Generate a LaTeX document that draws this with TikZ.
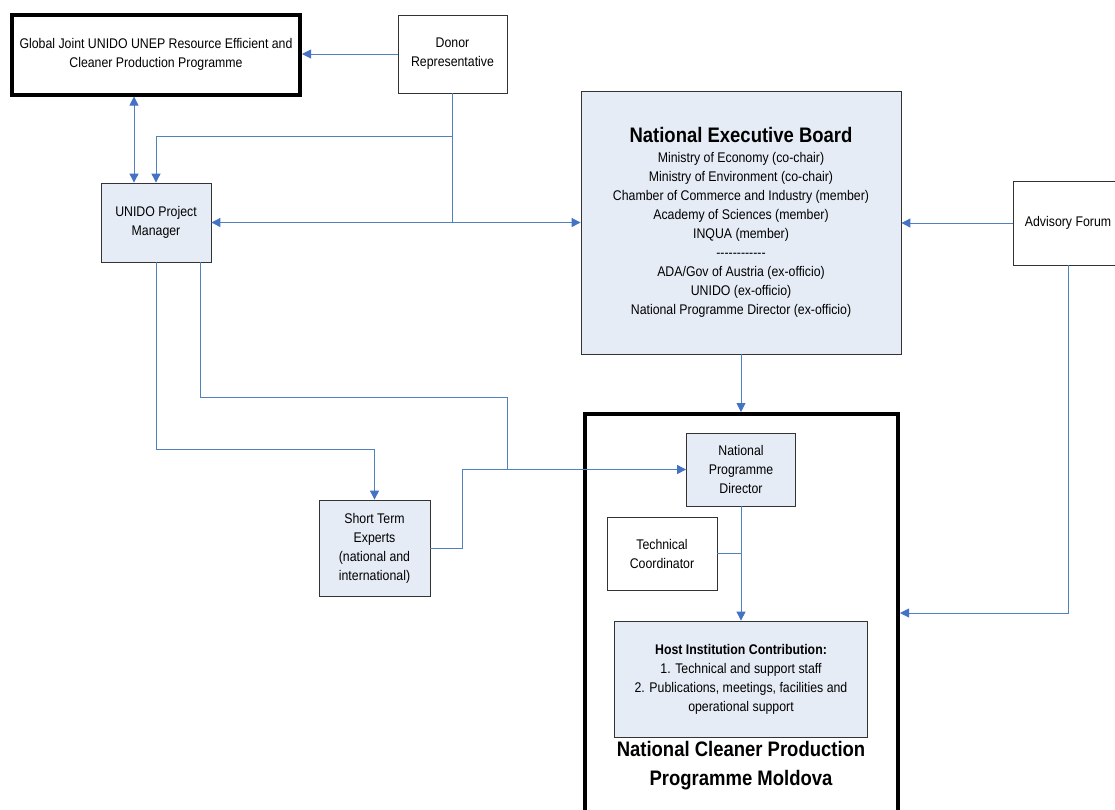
\documentclass[tikz,border=0pt]{standalone}
\usepackage{fontspec}
\setmainfont{Liberation Sans}[FakeStretch=0.88]
\usetikzlibrary{arrows.meta}
\definecolor{lnblue}{RGB}{79,129,189}
\definecolor{tipblue}{RGB}{68,114,196}
\definecolor{boxfill}{RGB}{230,236,246}
\tikzset{
  box/.style={draw=black!80, line width=0.8pt, align=center, inner sep=2pt,
    font=\fontsize{14}{19}\selectfont},
  bluebox/.style={box, fill=boxfill},
  thickbox/.style={draw=black, line width=4pt},
  conn/.style={draw=lnblue, line width=0.9pt},
  tip/.tip={Triangle[width=9pt,length=9pt,color=tipblue]},
  arr/.style={conn, -tip},
  arrb/.style={conn, tip-tip},
}
\begin{document}
\begin{tikzpicture}[x=1pt,y=-1pt]
\useasboundingbox (0,0) rectangle (1115,809);
% outer programme box
\node[thickbox, minimum width=313pt, minimum height=420pt] (outer) at (741.5,624) {};
\node[box, thickbox, minimum width=288pt, minimum height=80pt] (global) at (156,54.5)
  {Global Joint UNIDO UNEP Resource Efficient and\\Cleaner Production Programme};
\node[box, minimum width=109pt, minimum height=78pt] (donor) at (452.5,54)
  {Donor\\Representative};
\node[bluebox, minimum width=110pt, minimum height=79pt] (pm) at (156,222.5)
  {UNIDO Project\\Manager};
\node[bluebox, minimum width=320pt, minimum height=263pt] (neb) at (741,222.5)
  {{\fontsize{21}{25}\selectfont\bfseries National Executive Board}\\[1pt]
   Ministry of Economy (co-chair)\\
   Ministry of Environment (co-chair)\\
   Chamber of Commerce and Industry (member)\\
   Academy of Sciences (member)\\
   INQUA (member)\\
   -{}-{}-{}-{}-{}-{}-{}-{}-{}-{}-{}-\\
   ADA/Gov of Austria (ex-officio)\\
   UNIDO (ex-officio)\\
   National Programme Director (ex-officio)};
\node[box, minimum width=110pt, minimum height=84pt] (af) at (1068,223)
  {Advisory Forum};
\node[bluebox, minimum width=109pt, minimum height=73pt] (npd) at (741,469.5)
  {National\\Programme\\Director};
\node[box, minimum width=110pt, minimum height=73pt] (tc) at (662,553.5)
  {Technical\\Coordinator};
\node[bluebox, minimum width=253pt, minimum height=116pt] (host) at (741,679)
  {\textbf{Host Institution Contribution:}\\
   1. Technical and support staff\\
   2. Publications, meetings, facilities and\\
   operational support};
\node[bluebox, minimum width=111pt, minimum height=96pt] (ste) at (374.5,548)
  {Short Term\\Experts\\(national and\\international)};
\node[align=center, font=\fontsize{21}{29}\selectfont\bfseries] (title) at (741,766)
  {National Cleaner Production\\Programme Moldova};
% junction coordinates
\coordinate (dj) at (donor.south |- 0,136);
\coordinate (pmr) at ([xshift=44pt]pm.south);
\coordinate (ja) at (507,397);
\coordinate (jb) at (507,469.5);
\coordinate (jc) at (462,469.5);
\coordinate (af2) at (af.south |- 0,613);
% connectors
\draw[arr] (donor.west) -- (donor.west -| global.east);
\draw[arrb] ([xshift=-22pt]global.south) -- ([xshift=-22pt]pm.north);
\draw[conn] (donor.south) -- (donor.south |- pm.east);
\draw[arr] (dj) -| (pm.north);
\draw[arrb] (pm.east) -- (neb.west);
\draw[arr] (af.west) -- (af.west -| neb.east);
\draw[arr] (af.south) -- (af2) -- (af2 -| outer.east);
\draw[arr] (neb.south) -- (neb.south |- outer.north);
\draw[arr] (pm.south) |- (ste.north |- 0,449) -- (ste.north);
\draw[conn] (pmr) |- (ja) -- (jb);
\draw[arr] (ste.east) -| (jc) -- (npd.west);
\draw[arr] (npd.south) -- (host.north);
\draw[conn] (tc.east) -- (tc.east -| npd.south);
\end{tikzpicture}
\end{document}
